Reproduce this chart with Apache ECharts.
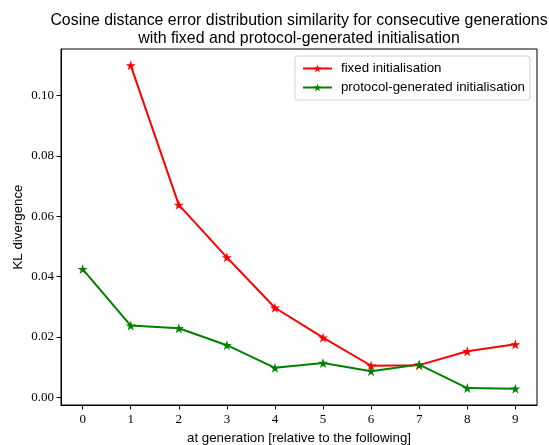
<!DOCTYPE html>
<html>
<head>
<meta charset="utf-8">
<script src="https://cdn.jsdelivr.net/npm/echarts@6/dist/echarts.min.js"></script>
<style>
  html, body { margin: 0; padding: 0; background: #fff; }
  #chart { width: 549px; height: 445px; }
</style>
</head>
<body>
<div id="chart"></div>
<script>
// KL divergence between consecutive generations
const generations = [0, 1, 2, 3, 4, 5, 6, 7, 8, 9];
const fixedGenerations = [1, 2, 3, 4, 5, 6, 7, 8, 9];
const fixedInit = [0.110, 0.0638, 0.0464, 0.0297, 0.0198, 0.0105, 0.0107, 0.0153, 0.0176];
const protocolInit = [0.0425, 0.0238, 0.0229, 0.0173, 0.0098, 0.0114, 0.0087, 0.0109, 0.0031, 0.0029];
const xTicks = [0, 1, 2, 3, 4, 5, 6, 7, 8, 9];
const yTicks = [0, 0.02, 0.04, 0.06, 0.08, 0.10];

const star = 'path://M0,-100 L22.45,-30.9 L95.1,-30.9 L36.3,11.8 L58.8,80.9 L0,38.2 L-58.8,80.9 L-36.3,11.8 L-95.1,-30.9 L-22.45,-30.9 Z';

function pairs(xs, ys) { return xs.map((x, i) => [x, ys[i]]); }

const sans = 'Liberation Sans, Arial, sans-serif';
const serif = 'Liberation Serif, DejaVu Serif, serif';

const chart = echarts.init(document.getElementById('chart'), null, { renderer: 'canvas' });
chart.setOption({
  animation: false,
  backgroundColor: '#fff',
  title: {
    text: 'Cosine distance error distribution similarity for consecutive generations\nwith fixed and protocol-generated initialisation',
    left: 294, top: 7, textAlign: 'center',
    textStyle: { fontFamily: sans, fontSize: 15.9, fontWeight: 'normal', color: '#000', lineHeight: 18 }
  },
  grid: {
    left: 61, right: 12, top: 49, bottom: 40,
    outerBoundsMode: 'none', containLabel: false,
    show: true, borderColor: '#000', borderWidth: 1, backgroundColor: 'transparent'
  },
  legend: {
    right: 19, top: 56, orient: 'vertical',
    itemWidth: 29, itemHeight: 10, itemGap: 6,
    padding: [6, 5, 6, 7],
    borderColor: '#d0d0d0', borderWidth: 1, borderRadius: 3,
    backgroundColor: 'rgba(255,255,255,0.8)',
    textStyle: { fontFamily: sans, fontSize: 13.3, color: '#000', padding: [0, 0, 0, 4] },
    data: ['fixed initialisation', 'protocol-generated initialisation']
  },
  xAxis: {
    type: 'value', min: -0.45, max: 9.45,
    name: 'at generation [relative to the following]',
    nameLocation: 'middle', nameGap: 27, nameMoveOverlap: false,
    nameTextStyle: { fontFamily: sans, fontSize: 13.3, color: '#000' },
    axisLine: { show: true, onZero: false, lineStyle: { color: '#000', width: 1 } },
    axisTick: { show: true, length: 4.5, customValues: xTicks, lineStyle: { color: '#000' } },
    axisLabel: { customValues: xTicks, fontFamily: serif, fontSize: 13, color: '#000', margin: 8 },
    splitLine: { show: false }
  },
  yAxis: {
    type: 'value', min: -0.0025, max: 0.1154,
    name: 'KL divergence',
    nameLocation: 'middle', nameGap: 36, nameRotate: 90, nameMoveOverlap: false,
    nameTextStyle: { fontFamily: sans, fontSize: 13.3, color: '#000' },
    axisLine: { show: true, onZero: false, lineStyle: { color: '#000', width: 1 } },
    axisTick: { show: true, length: 4.5, customValues: yTicks, lineStyle: { color: '#000' } },
    axisLabel: {
      customValues: yTicks, fontFamily: serif, fontSize: 13, color: '#000', margin: 7,
      formatter: v => v.toFixed(2)
    },
    splitLine: { show: false }
  },
  series: [
    {
      name: 'fixed initialisation', type: 'line',
      data: pairs(fixedGenerations, fixedInit),
      symbol: star, symbolSize: 10, showAllSymbol: true,
      lineStyle: { color: '#ff0000', width: 2 },
      itemStyle: { color: '#ff0000' }
    },
    {
      name: 'protocol-generated initialisation', type: 'line',
      data: pairs(generations, protocolInit),
      symbol: star, symbolSize: 10, showAllSymbol: true,
      lineStyle: { color: '#008000', width: 2 },
      itemStyle: { color: '#008000' }
    }
  ]
});
</script>
</body>
</html>
